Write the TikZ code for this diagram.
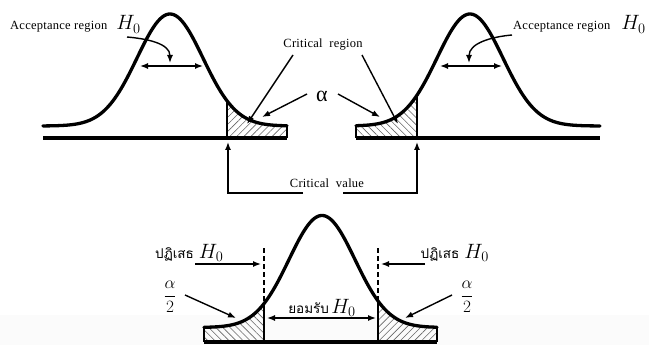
\documentclass[tikz,border=0pt]{standalone}
\usepackage{fontspec}
\setmainfont{Liberation Serif}
\newfontfamily\thaifont[Script=Thai]{Loma}
\newfontfamily\lblfont[LetterSpace=2]{Liberation Serif}
\usetikzlibrary{arrows.meta,patterns.meta}
\newcommand{\bigH}{{\fontsize{20.74}{24}\selectfont$H_0$}}
\begin{document}
\begin{tikzpicture}[x=1pt,y=-1pt,
  curve/.style={line width=3.3pt,line join=round,line cap=round},
  base/.style={line width=3.3pt},
  edge/.style={line width=2.4pt},
  arr/.style={line width=1.4pt,-{Latex[length=8pt,width=6pt]}},
  darr/.style={line width=1.4pt,{Latex[length=8pt,width=6pt]}-{Latex[length=8pt,width=6pt]}},
  cvline/.style={line width=1.4pt,-{Latex[length=8pt,width=6pt]}},
  dline/.style={line width=1.4pt,dash pattern=on 5pt off 3pt},
  hatchNE/.style={pattern={Lines[angle=45,distance=5pt,line width=0.6pt]},pattern color=black!60},
  hatchNW/.style={pattern={Lines[angle=-45,distance=5pt,line width=0.6pt]},pattern color=black!60},
  lbl/.style={font=\lblfont\fontsize{12.5}{14}\selectfont,inner sep=0pt},
  thai/.style={font=\thaifont\fontsize{13.5}{15}\selectfont,inner sep=0pt},
  frac/.style={font=\fontsize{17.28}{19}\selectfont,inner sep=0pt}
]
\useasboundingbox (0,0) rectangle (649,345);
\fill[black!1.5] (0,315) rectangle (649,345);

% ---------- top left curve ----------
\fill[hatchNE] plot[domain=1.727:3.545,samples=40] ({170+33*\x},{126-112*exp(-\x*\x/2)}) -- (287,138) -- (227,138) -- cycle;
\draw[curve] plot[domain=-3.85:3.545,samples=120] ({170+33*\x},{126-112*exp(-\x*\x/2)});
\coordinate (lcTop) at (227,100.8);
\coordinate (lcBot) at (227,138);
\coordinate (leTop) at (287,125.8);
\coordinate (leBot) at (287,138);
\coordinate (lbStart) at (43,138);
\draw[edge] (lcBot) -- (lcTop);
\draw[edge] (leBot) -- (leTop);
\draw[base] (lbStart) -- (leBot);

% ---------- top right curve ----------
\fill[hatchNW] plot[domain=-3.455:-1.606,samples=40] ({470+33*\x},{126-112*exp(-\x*\x/2)}) -- (417,138) -- (356,138) -- cycle;
\draw[curve] plot[domain=-3.455:3.94,samples=120] ({470+33*\x},{126-112*exp(-\x*\x/2)});
\coordinate (rcTop) at (417,95.2);
\coordinate (rcBot) at (417,138);
\coordinate (reTop) at (356,125.7);
\coordinate (reBot) at (356,138);
\coordinate (rbEnd) at (600,138);
\draw[edge] (rcBot) -- (rcTop);
\draw[edge] (reBot) -- (reTop);
\draw[base] (reBot) -- (rbEnd);

% ---------- top labels ----------
\node[lbl,anchor=base west] (accL) at (10,30) {Acceptance region\hspace{9pt}\bigH};
\node[lbl,anchor=base west] (accR) at (513,30) {Acceptance region\hspace{11pt}\bigH};
\node[lbl] (crit) at (323,45) {Critical\ \ region};
\node[inner sep=0pt,font=\fontsize{22}{24}\selectfont] (alpha) at (322,96) {α};
\node[lbl] (cval) at (327,183) {Critical\ \ value};

\coordinate (aLs) at (127,37);
\coordinate (aLe) at (170,63);
\draw[arr] (aLs) to[out=-5,in=90] (aLe);
\coordinate (dL1) at (140,66);
\coordinate (dL2) at (203,66);
\draw[darr] (dL1) -- (dL2);

\coordinate (aRs) at (512,35);
\coordinate (aRe) at (469,63);
\draw[arr] (aRs) to[out=185,in=90] (aRe);
\coordinate (dR1) at (440,66);
\coordinate (dR2) at (502,66);
\draw[darr] (dR1) -- (dR2);

\coordinate (crL) at (293,55);
\coordinate (crLe) at (247,124);
\coordinate (crR) at (362,55);
\coordinate (crRe) at (398,124);
\draw[arr] (crL) -- (crLe);
\draw[arr] (crR) -- (crRe);

\coordinate (alL) at (307,94);
\coordinate (alLe) at (262,117);
\coordinate (alR) at (338,94);
\coordinate (alRe) at (380,117);
\draw[arr] (alL) -- (alLe);
\draw[arr] (alR) -- (alRe);

\coordinate (cvL) at (303,193);
\coordinate (cvLt) at (228,142);
\coordinate (cvR) at (343,193);
\coordinate (cvRt) at (417,142);
\draw[cvline] (cvL) -| (cvLt);
\draw[cvline] (cvR) -| (cvRt);

% ---------- bottom curve ----------
\fill[hatchNW] plot[domain=-3.576:-1.758,samples=40] ({322+33*\x},{327.5-112*exp(-\x*\x/2)}) -- (264,342) -- (204,342) -- cycle;
\fill[hatchNE] plot[domain=1.697:3.485,samples=40] ({322+33*\x},{327.5-112*exp(-\x*\x/2)}) -- (437,342) -- (378,342) -- cycle;
\draw[curve] plot[domain=-3.576:3.485,samples=140] ({322+33*\x},{327.5-112*exp(-\x*\x/2)});
\coordinate (bL) at (204,342);
\coordinate (bLt) at (204,327.3);
\coordinate (bR) at (437,342);
\coordinate (bRt) at (437,327.2);
\coordinate (bcL) at (264,342);
\coordinate (bcLt) at (264,303.6);
\coordinate (bcR) at (378,342);
\coordinate (bcRt) at (378,301);
\coordinate (bdL) at (264,248);
\coordinate (bdR) at (378,248);
\draw[edge] (bL) -- (bLt);
\draw[edge] (bR) -- (bRt);
\draw[edge] (bcL) -- (bcLt);
\draw[edge] (bcR) -- (bcRt);
\draw[base] (bL) -- (bR);
\draw[dline] (bdL) -- (bcLt);
\draw[dline] (bdR) -- (bcRt);

% ---------- bottom labels ----------
\node[thai,anchor=base west] (rejL) at (155,258) {ปฏิเสธ\hspace{5pt}\bigH};
\node[thai,anchor=base east] (rejR) at (489,258) {ปฏิเสธ\hspace{5pt}\bigH};
\node[thai,anchor=base] (acc) at (322,313) {ยอมรับ\,\bigH};
\node[frac] (fL) at (170,297) {$\displaystyle\frac{\alpha}{2}$};
\node[frac] (fR) at (467,297) {$\displaystyle\frac{\alpha}{2}$};

\coordinate (rLs) at (195,264);
\coordinate (rLe) at (261,264);
\coordinate (rRs) at (425,264);
\coordinate (rRe) at (381,264);
\draw[arr] (rLs) -- (rLe);
\draw[arr] (rRs) -- (rRe);

\coordinate (fLs) at (185,295);
\coordinate (fLe) at (236,318);
\coordinate (fRs) at (452,295);
\coordinate (fRe) at (405,318);
\draw[arr] (fLs) -- (fLe);
\draw[arr] (fRs) -- (fRe);

\coordinate (yL) at (267,318);
\coordinate (yR) at (376,318);
\draw[darr] (yL) -- (yR);
\end{tikzpicture}
\end{document}
